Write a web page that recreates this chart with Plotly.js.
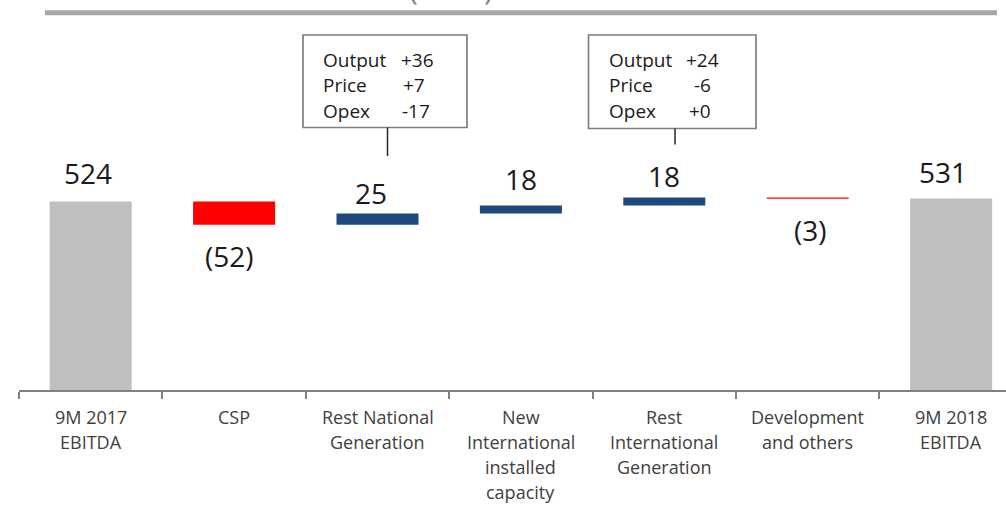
<!DOCTYPE html>
<html>
<head>
<meta charset="utf-8">
<script src="https://cdn.plot.ly/plotly-3.0.1.min.js"></script>
<style>
  html, body { margin: 0; padding: 0; background: #ffffff; }
  #chart { width: 1006px; height: 505px; }
</style>
</head>
<body>
<div id="chart"></div>
<script>
// EBITDA bridge, 9M 2017 -> 9M 2018
const categories = ['9M 2017 EBITDA', 'CSP', 'Rest National Generation',
  'New International installed capacity', 'Rest International Generation',
  'Development and others', '9M 2018 EBITDA'];
const tickLabels = ['9M 2017<br>EBITDA', 'CSP', 'Rest National<br>Generation',
  'New<br>International<br>installed<br>capacity', 'Rest<br>International<br>Generation',
  'Development<br>and others', '9M 2018<br>EBITDA'];
const measures = ['absolute', 'relative', 'relative', 'relative', 'relative', 'relative', 'absolute'];
const values = [524, -52, 25, 18, 18, -3, 531];

// Breakdown callouts
const driverLabels = ['Output', 'Price', 'Opex'];
const nationalDrivers = [36, 7, -17];
const internationalDrivers = [24, -6, 0];

// ---- layout geometry (pixels) ----
const W = 1006, H = 505;
const L = 19, R = 1006, T = 20, B = 390;
const px = x => (x - L) / (R - L);
const py = y => (B - y) / (B - T);
const catWidth = 143.4;

const FONT = '"Open Sans", "Noto Sans", sans-serif';

// running totals give each bar's end value
const ends = [];
let running = 0;
values.forEach((v, i) => {
  running = measures[i] === 'absolute' ? v : running + v;
  ends.push(running);
});

const fmtValue = v => v < 0 ? '(' + Math.abs(v) + ')' : String(v);
const fmtDriver = v => (v < 0 ? '-' : '+') + Math.abs(v);

// label offsets from the bar end: centre of the text, px (positive = down)
const labelDy = [-28.5, 31, -20.5, -27, -21.7, 31, -26.3];
const labelDx = [-3, -5, -7, 0, 0, 3, -8];

const annotations = [];
values.forEach((v, i) => {
  annotations.push({
    x: categories[i], xref: 'x', y: ends[i], yref: 'y',
    text: fmtValue(v), showarrow: false,
    xanchor: 'center', yanchor: 'middle',
    xshift: labelDx[i], yshift: -labelDy[i],
    font: { family: FONT, size: 28, color: '#1A1A1A' }
  });
});

// category labels, one line at a time for a wider line pitch
const tickLine0 = 416.5, tickPitch = 25;
tickLabels.forEach((lab, i) => {
  lab.split('<br>').forEach((line, k) => {
    annotations.push({
      x: categories[i], xref: 'x', y: py(tickLine0 + k * tickPitch), yref: 'paper',
      text: line, showarrow: false, xanchor: 'center', yanchor: 'middle',
      font: { family: FONT, size: 18, color: '#404040' }
    });
  });
});

// callout text rows
const rowY = [60, 85.5, 111];
const boxes = [
  { drivers: nationalDrivers, labelX: 321, valueX: [399, 401, 400] },
  { drivers: internationalDrivers, labelX: 607, valueX: [684, 692, 687] }
];
boxes.forEach(b => {
  driverLabels.forEach((lab, j) => {
    annotations.push({
      x: px(b.labelX), xref: 'paper', y: py(rowY[j]), yref: 'paper',
      text: lab, showarrow: false, xanchor: 'left', yanchor: 'middle',
      font: { family: FONT, size: 19, color: '#1A1A1A' }
    });
    annotations.push({
      x: px(b.valueX[j]), xref: 'paper', y: py(rowY[j]), yref: 'paper',
      text: fmtDriver(b.drivers[j]), showarrow: false, xanchor: 'left', yanchor: 'middle',
      font: { family: FONT, size: 19, color: '#1A1A1A' }
    });
  });
});

// brackets of the heading above the rule
[['(', 413], [')', 488]].forEach(([ch, x]) => {
  annotations.push({
    x: px(x), xref: 'paper', y: py(-11), yref: 'paper',
    text: ch, showarrow: false, xanchor: 'center', yanchor: 'middle',
    font: { family: FONT, size: 30, color: '#808080' }
  });
});

const shapes = [
  // heading rule
  { type: 'line', xref: 'paper', yref: 'paper', x0: px(45), x1: px(997), y0: py(12.7), y1: py(12.7),
    line: { color: '#A6A6A6', width: 5 } },
  // callout boxes and stems
  { type: 'rect', xref: 'paper', yref: 'paper', x0: px(303), x1: px(467), y0: py(35), y1: py(127.5),
    line: { color: '#7F7F7F', width: 1.7 }, fillcolor: '#FFFFFF' },
  { type: 'line', xref: 'paper', yref: 'paper', x0: px(387.5), x1: px(387.5), y0: py(127.5), y1: py(156),
    line: { color: '#262626', width: 1.5 } },
  { type: 'rect', xref: 'paper', yref: 'paper', x0: px(588.5), x1: px(756), y0: py(35), y1: py(128.5),
    line: { color: '#7F7F7F', width: 1.7 }, fillcolor: '#FFFFFF' },
  { type: 'line', xref: 'paper', yref: 'paper', x0: px(675), x1: px(675), y0: py(128.5), y1: py(144.5),
    line: { color: '#262626', width: 1.5 } }
];

const trace = {
  type: 'waterfall',
  x: categories,
  y: values,
  measure: measures,
  connector: { visible: false },
  increasing: { marker: { color: '#1F497D', line: { width: 0 } } },
  decreasing: { marker: { color: '#FF0000', line: { width: 0 } } },
  totals: { marker: { color: '#BFBFBF', line: { width: 0 } } },
  textinfo: 'none',
  hoverinfo: 'skip',
  cliponaxis: true
};

const pxPerUnit = 0.446;
const yTop = 524 + (201.5 - T) / pxPerUnit;
const yBottom = yTop - (B - T) / pxPerUnit;

const layout = {
  width: W, height: H,
  margin: { l: L, r: W - R, t: T, b: H - B, pad: 0 },
  paper_bgcolor: '#FFFFFF', plot_bgcolor: '#FFFFFF',
  showlegend: false,
  waterfallgap: 0.428,
  font: { family: FONT },
  xaxis: {
    type: 'category',
    range: [-0.5, -0.5 + (R - L) / catWidth],
    showticklabels: false,
    showline: true, linecolor: '#808080', linewidth: 1.5,
    ticks: 'outside', tickson: 'boundaries', ticklen: 7, tickwidth: 2, tickcolor: '#808080',
    showgrid: false, zeroline: false, automargin: false, fixedrange: true
  },
  yaxis: {
    range: [yBottom, yTop],
    visible: false, showgrid: false, zeroline: false, fixedrange: true
  },
  shapes: shapes,
  annotations: annotations
};

Plotly.newPlot('chart', [trace], layout, { displayModeBar: false, staticPlot: true });
</script>
</body>
</html>
